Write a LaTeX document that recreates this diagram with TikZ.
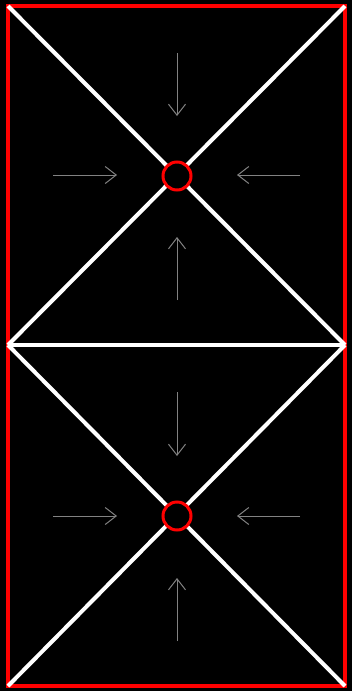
\documentclass[tikz,border=0pt]{standalone}
\usetikzlibrary{arrows.meta}
\definecolor{arrowgray}{RGB}{130,130,130}
\definecolor{pured}{RGB}{255,0,0}
\tikzset{
  frame/.style={draw=pured, line width=3.5pt},
  wline/.style={draw=white, line width=4pt},
  sink/.style={circle, draw=pured, line width=3pt, minimum size=28pt, inner sep=0pt},
  flow/.style={draw=arrowgray, line width=1pt, -{Straight Barb[length=11pt,width=17pt,line width=1pt]}}
}
\begin{document}
\begin{tikzpicture}[x=1pt,y=-1pt]
\fill[black] (0,0) rectangle (352,691);
\useasboundingbox (0,0) rectangle (352,691);
\coordinate (tl) at (8,6);
\coordinate (tr) at (345,6);
\coordinate (ml) at (8,345);
\coordinate (mr) at (345,345);
\coordinate (bl) at (8,686);
\coordinate (br) at (345,686);
% red frame
\draw[frame] (tl) rectangle (br);
% white lines
\draw[wline] (tl) -- (mr);
\draw[wline] (tr) -- (ml);
\draw[wline] (ml) -- (mr);
\draw[wline] (ml) -- (br);
\draw[wline] (mr) -- (bl);
% sinks
\node[sink, fill=black] (s1) at (177,176) {};
\node[sink, fill=black] (s2) at (177,516) {};
% arrows top
\coordinate (a1s) at (177,53);  \coordinate (a1e) at (177,116);
\coordinate (a2s) at (177,300); \coordinate (a2e) at (177,237);
\coordinate (a3s) at (53,175);  \coordinate (a3e) at (117,175);
\coordinate (a4s) at (300,175); \coordinate (a4e) at (237,175);
\draw[flow] (a1s) -- (a1e);
\draw[flow] (a2s) -- (a2e);
\draw[flow] (a3s) -- (a3e);
\draw[flow] (a4s) -- (a4e);
% arrows bottom
\coordinate (b1s) at (177,392); \coordinate (b1e) at (177,456);
\coordinate (b2s) at (177,641); \coordinate (b2e) at (177,578);
\coordinate (b3s) at (53,516);  \coordinate (b3e) at (117,516);
\coordinate (b4s) at (300,516); \coordinate (b4e) at (237,516);
\draw[flow] (b1s) -- (b1e);
\draw[flow] (b2s) -- (b2e);
\draw[flow] (b3s) -- (b3e);
\draw[flow] (b4s) -- (b4e);
\end{tikzpicture}
\end{document}
